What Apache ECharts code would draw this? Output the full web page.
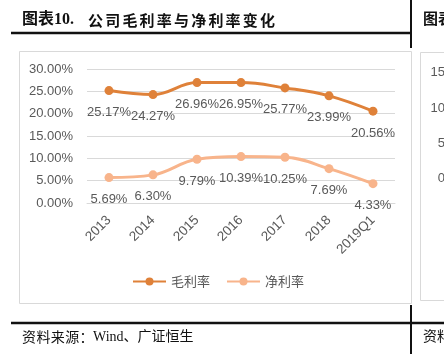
<!DOCTYPE html>
<html>
<head>
<meta charset="utf-8">
<script src="https://cdn.jsdelivr.net/npm/echarts@6/dist/echarts.min.js"></script>
<style>
html,body{margin:0;padding:0;background:#fff;}
#chart{width:444px;height:354px;}
</style>
</head>
<body>
<div id="chart"></div>
<script>
// 数据
var years = ['2013', '2014', '2015', '2016', '2017', '2018', '2019Q1'];
var grossMargin = [25.17, 24.27, 26.96, 26.95, 25.77, 23.99, 20.56];
var netMargin = [5.69, 6.30, 9.79, 10.39, 10.25, 7.69, 4.33];
var rightTicks = ['15', '10', '5', '0'];

var cjk = '"Noto Sans CJK SC", sans-serif';
var serif = '"Liberation Serif", "Noto Sans CJK SC", serif';
var numFont = '"Liberation Sans", "Noto Sans", sans-serif';

var mychart = echarts.init(document.getElementById('chart'));

// 标题逐字放，模拟原图字距
var titleChars = '公司毛利率与净利率变化';
var sourceChars = '资料来源：';
var graphics = [
	{type:'rect', shape:{x:19.5, y:51.5, width:392, height:252}, style:{fill:'#fff', stroke:'#d9d9d9', lineWidth:1}, z:-1},
	{type:'rect', shape:{x:420.5, y:52.5, width:40, height:248}, style:{fill:'#fff', stroke:'#d9d9d9', lineWidth:1}, z:-1},
	{type:'line', shape:{x1:11, y1:33, x2:411, y2:33}, style:{stroke:'#111', lineWidth:2.5}},
	{type:'line', shape:{x1:411, y1:0, x2:411, y2:48}, style:{stroke:'#111', lineWidth:2}},
	{type:'line', shape:{x1:411, y1:305, x2:411, y2:354}, style:{stroke:'#111', lineWidth:2}},
	{type:'line', shape:{x1:11, y1:323, x2:444, y2:323}, style:{stroke:'#111', lineWidth:2.5}},
	{type:'text', x:22, y:20, style:{text:'图表10.', font:'bold 16px ' + serif, fill:'#111', verticalAlign:'middle'}},
	{type:'text', x:423, y:20, style:{text:'图表', font:'bold 15px ' + serif, fill:'#111', verticalAlign:'middle'}},
	{type:'text', x:93, y:337, style:{text:'Wind、广证恒生', font:'14px ' + serif, fill:'#111', verticalAlign:'middle'}},
	{type:'text', x:423, y:337, style:{text:'资料', font:'14px ' + serif, fill:'#111', verticalAlign:'middle'}}
];
for (var i = 0; i < titleChars.length; i++) {
	graphics.push({type:'text', x:88 + i * 17.2, y:20, style:{text:titleChars[i], font:'bold 15px ' + cjk, fill:'#111', verticalAlign:'middle'}});
}
for (var k = 0; k < sourceChars.length; k++) {
	graphics.push({type:'text', x:22 + k * 14.4, y:337, style:{text:sourceChars[k], font:'14px ' + cjk, fill:'#111', verticalAlign:'middle'}});
}
var rightY = [72, 108, 143, 178];
for (var j = 0; j < rightTicks.length; j++) {
	graphics.push({type:'text', x:445, y:rightY[j], style:{text:rightTicks[j], font:'13px ' + numFont, fill:'#595959', align:'right', verticalAlign:'middle'}});
}

var labelStyle = {
	show: true,
	position: 'bottom',
	distance: 11,
	color: '#595959',
	fontSize: 13,
	fontFamily: numFont,
	formatter: function(p){ return p.value.toFixed(2) + '%'; }
};

var option = {
	animation: false,
	backgroundColor: '#fff',
	graphic: graphics,
	legend: {
		left: 132,
		top: 275,
		padding: 0,
		itemWidth: 33,
		itemHeight: 10,
		itemGap: 16,
		textStyle: {color:'#595959', fontSize:13, fontFamily:cjk},
		data: ['毛利率', '净利率']
	},
	grid: {left:87, right:49, top:69, bottom:151},
	xAxis: {
		type: 'category',
		data: years,
		axisLine: {lineStyle:{color:'#d9d9d9'}},
		axisTick: {show:false},
		axisLabel: {rotate:45, color:'#595959', fontSize:13.5, fontFamily:numFont, margin:15, interval:0}
	},
	yAxis: {
		type: 'value',
		min: 0,
		max: 30,
		interval: 5,
		axisLine: {show:false},
		axisTick: {show:false},
		splitLine: {lineStyle:{color:'#d9d9d9'}},
		axisLabel: {color:'#595959', fontSize:13, fontFamily:numFont, margin:14,
			formatter: function(v){ return v.toFixed(2) + '%'; }}
	},
	series: [
		{
			name: '毛利率',
			type: 'line',
			data: grossMargin,
			smooth: 0.4,
			symbol: 'circle',
			symbolSize: 9,
			itemStyle: {color:'#df8139'},
			lineStyle: {width:3, color:'#df8139'},
			label: labelStyle
		},
		{
			name: '净利率',
			type: 'line',
			data: netMargin,
			smooth: 0.4,
			symbol: 'circle',
			symbolSize: 9,
			itemStyle: {color:'#f8b48b'},
			lineStyle: {width:3, color:'#f8b48b'},
			label: labelStyle
		}
	]
};
mychart.setOption(option);
</script>
</body>
</html>
